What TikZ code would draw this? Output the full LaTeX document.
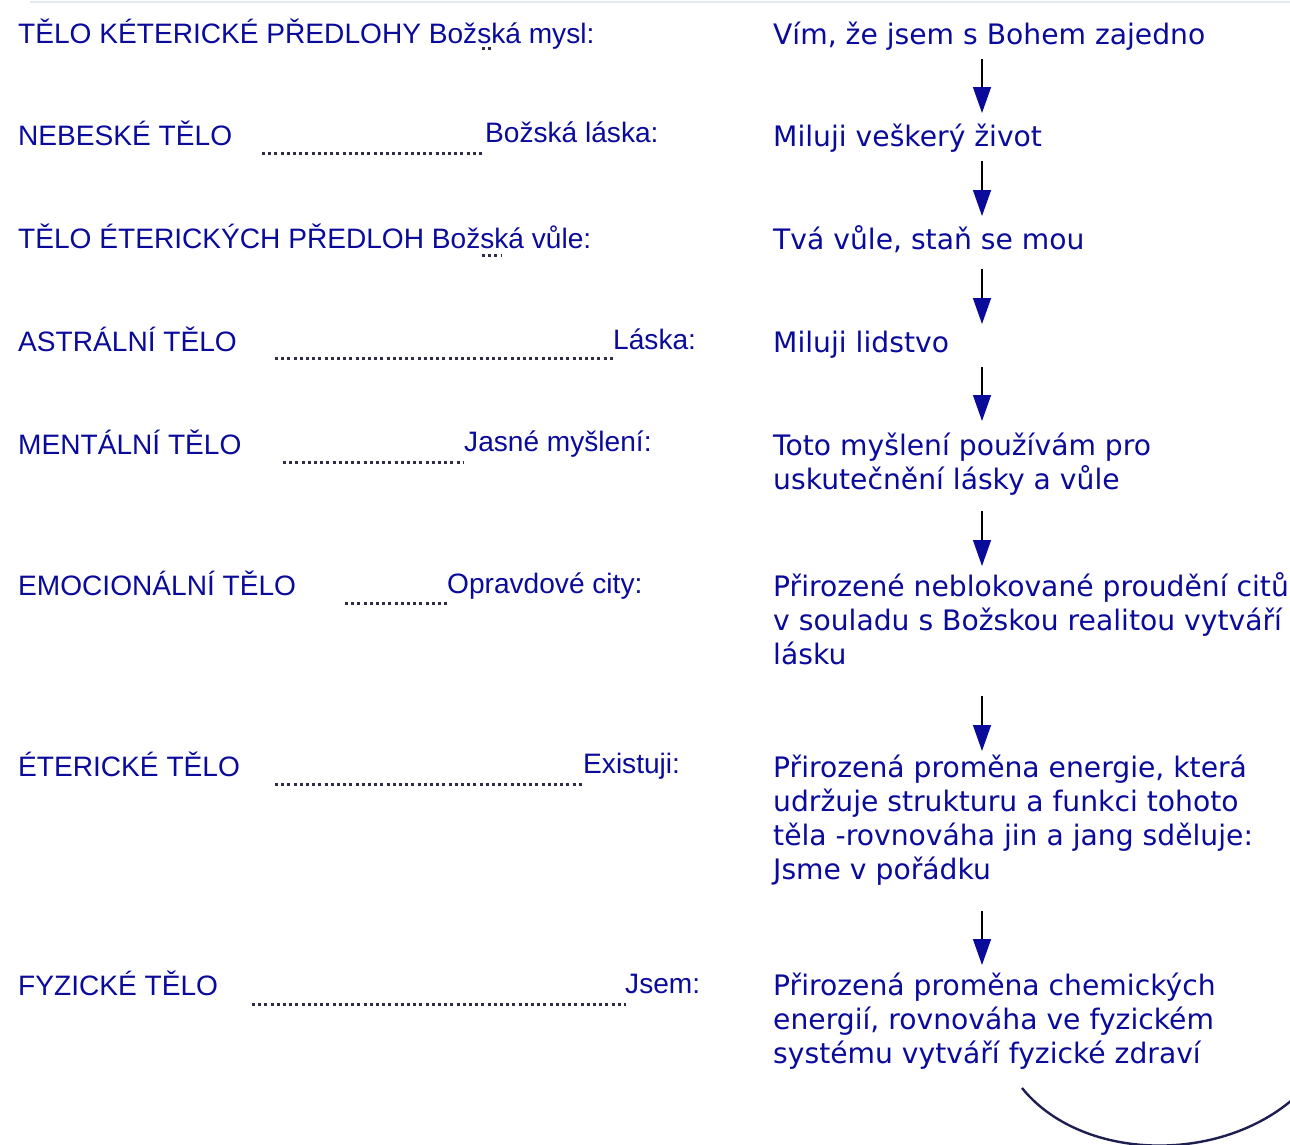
\documentclass[tikz,border=0pt]{standalone}
\usepackage{fontspec}
\newfontfamily\arialf{Liberation Sans}
\newfontfamily\verdf{DejaVu Sans}
\usetikzlibrary{arrows.meta}
\definecolor{ink}{RGB}{10,10,155}
\definecolor{dotc}{RGB}{45,45,70}
\definecolor{topline}{RGB}{225,234,240}
\tikzset{
  lbl/.style={inner sep=0pt, anchor=base west, text=ink, font=\arialf\fontsize{28.1}{34}\selectfont},
  rtxt/.style={inner sep=0pt, anchor=base west, text=ink, align=left, font=\verdf\fontsize{28.2}{34}\selectfont},
  dotline/.style={draw=dotc, line width=3pt, dash pattern=on 3pt off 3.2pt},
  flow/.style={draw=black, line width=1.4pt, -{Triangle[width=18pt,length=26pt,color=ink,fill=ink]}}
}
\begin{document}
\begin{tikzpicture}[x=1pt,y=-1pt]
\useasboundingbox (0,0) rectangle (1290,1144);
\fill[white] (0,0) rectangle (1290,1144);
\coordinate (tl) at (30,1.5);
\coordinate (tr) at (1290,1.5);
\draw[topline, line width=2pt] (tl) -- (tr);

% left column
\node[lbl] (l1) at (18,43) {TĚLO KÉTERICKÉ PŘEDLOHY Božská mysl:};
\node[lbl] (l2) at (18,145) {NEBESKÉ TĚLO};
\node[lbl] (l3) at (18,248) {TĚLO ÉTERICKÝCH PŘEDLOH Božská vůle:};
\node[lbl] (l4) at (18,351) {ASTRÁLNÍ TĚLO};
\node[lbl] (l5) at (18,454) {MENTÁLNÍ TĚLO};
\node[lbl] (l6) at (18,595) {EMOCIONÁLNÍ TĚLO};
\node[lbl] (l7) at (18,776) {ÉTERICKÉ TĚLO};
\node[lbl] (l8) at (18,995) {FYZICKÉ TĚLO};

\node[lbl] (m2) at (485,142) {Božská láska:};
\node[lbl] (m4) at (613,349) {Láska:};
\node[lbl] (m5) at (464,451) {Jasné myšlení:};
\node[lbl] (m6) at (447,593) {Opravdové city:};
\node[lbl] (m7) at (583,773) {Existuji:};
\node[lbl] (m8) at (625,993) {Jsem:};

% dotted leaders
\coordinate (d1s) at (482,48); \coordinate (d1e) at (494,48);
\coordinate (d3s) at (482,255); \coordinate (d3e) at (501,255);
\coordinate (d2s) at (262,153); \coordinate (d2e) at (485,153);
\coordinate (d4s) at (275,358); \coordinate (d4e) at (615,358);
\coordinate (d5s) at (283,462); \coordinate (d5e) at (463,462);
\coordinate (d6s) at (345,603); \coordinate (d6e) at (448,603);
\coordinate (d7s) at (275,784); \coordinate (d7e) at (584,784);
\coordinate (d8s) at (252,1004); \coordinate (d8e) at (626,1004);
\foreach \i in {1,2,3,4,5,6,7,8} {\draw[dotline] (d\i s) -- (d\i e);}

% right column (anchor = baseline of last line)
\node[rtxt] (r1) at (773,44) {Vím, že jsem s Bohem zajedno};
\node[rtxt] (r2) at (773,146) {Miluji veškerý život};
\node[rtxt] (r3) at (773,249) {Tvá vůle, staň se mou};
\node[rtxt] (r4) at (773,352) {Miluji lidstvo};
\node[rtxt] (r5) at (773,489) {Toto myšlení používám pro\\uskutečnění lásky a vůle};
\node[rtxt] (r6) at (773,664) {Přirozené neblokované proudění citů\\v souladu s Božskou realitou vytváří\\lásku};
\node[rtxt] (r7) at (773,879) {Přirozená proměna energie, která\\udržuje strukturu a funkci tohoto\\těla -rovnováha jin a jang sděluje:\\Jsme v pořádku};
\node[rtxt] (r8) at (773,1063) {Přirozená proměna chemických\\energií, rovnováha ve fyzickém\\systému vytváří fyzické zdraví};

% arrows
\coordinate (a1) at (982,59);  \coordinate (b1) at (982,113);
\coordinate (a2) at (982,161); \coordinate (b2) at (982,216);
\coordinate (a3) at (982,269); \coordinate (b3) at (982,324);
\coordinate (a4) at (982,367); \coordinate (b4) at (982,421);
\coordinate (a5) at (982,511); \coordinate (b5) at (982,566);
\coordinate (a6) at (982,696); \coordinate (b6) at (982,751);
\coordinate (a7) at (982,911); \coordinate (b7) at (982,965);
\foreach \i in {1,...,7} {\draw[flow] (a\i) -- (b\i);}

% bottom arc
\coordinate (c1) at (1022,1088);
\coordinate (c2) at (1292,1100);
\draw[draw={rgb,255:red,30;green,30;blue,80}, line width=2.4pt] (c1) .. controls (1080,1160) and (1215,1165) .. (c2);
\end{tikzpicture}
\end{document}
